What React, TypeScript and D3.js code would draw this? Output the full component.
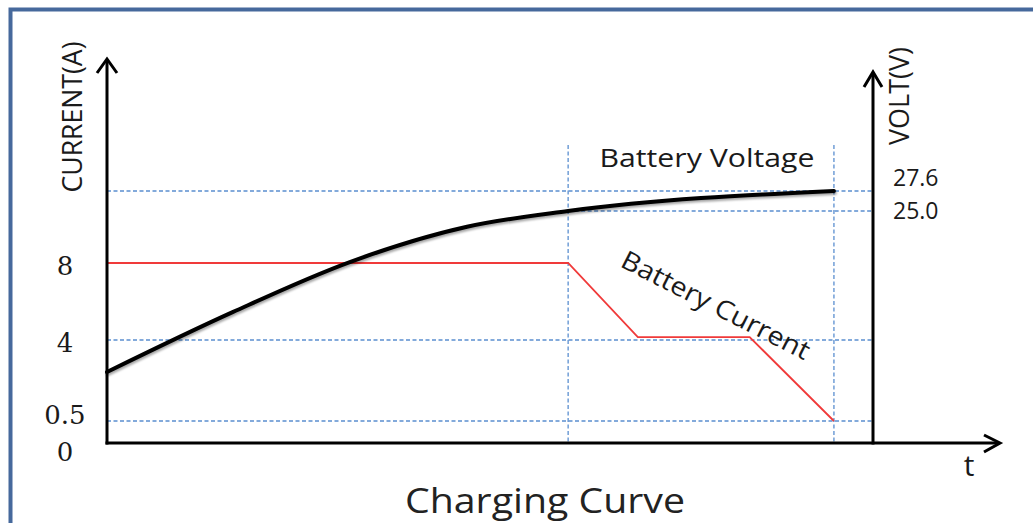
import React from 'react';
import { scaleLinear, line, curveMonotoneX, curveLinear } from 'd3';

// values (time in arbitrary hours)
const currentTicks = [0, 0.5, 4, 8];
const voltTicks = [25.0, 27.6];
const phaseTimes = [6.02, 9.49];

const currentTime = [0, 6.02, 6.93, 8.39, 9.49];
const currentAmps = [8, 8, 4.15, 4.15, 0.5];

const voltTime = [0, 1.64, 3.17, 4.7, 6.02, 9.49];
const voltValues = [7.65, 14.1, 19.5, 23.3, 25.0, 27.6];

const titleText = 'Charging  Curve';
const leftAxisTitle = 'CURRENT(A)';
const rightAxisTitle = 'VOLT(V)';
const voltLabel = 'Battery Voltage';
const currentLabel = 'Battery Current';
const timeLabel = 't';

const W = 1033;
const H = 523;

const App = () => {
  const x = scaleLinear().domain([0, 10]).range([107, 873]);
  // the drawing is schematic, so both value axes are piecewise
  const yA = scaleLinear().domain([0, 0.5, 4, 8]).range([443, 421, 340, 263]);
  const yV = scaleLinear().domain([0, 25, 27.6]).range([443, 211, 191]);

  const x0 = x(0);
  const xR = x(10);
  const y0 = yA(0);
  const leftTop = 59;
  const rightTop = 72;
  const xEnd = 1000;
  const gridTop = 145;

  const currentPath = line<number>()
    .x((d, i) => x(currentTime[i]))
    .y((d) => yA(d))
    .curve(curveLinear)(currentAmps);

  const voltPath = line<number>()
    .x((d, i) => x(voltTime[i]))
    .y((d) => yV(d))
    .curve(curveMonotoneX)(voltValues);

  const blue = '#5b8fd0';
  const dash = '4,2.5';
  const sans = "'Open Sans', 'Noto Sans', sans-serif";
  const serif = "'DejaVu Serif', serif";
  const ink = '#1a1a1a';

  // small nudges so the bottom labels do not collide
  const tickNudge = (v: number) => (v === 0 ? 9 : v === 0.5 ? -6 : 3);

  return (
    <svg width={W} height={H} style={{ position: 'absolute', left: 0, top: 0, background: '#fff' }}>
      <defs>
        <filter id="shadow" x="-5%" y="-20%" width="110%" height="140%">
          <feDropShadow dx="1" dy="2" stdDeviation="1" floodColor="#000" floodOpacity="0.35" />
        </filter>
      </defs>

      {/* frame */}
      <rect x={10.5} y={9.5} width={W + 40} height={H + 40} fill="#fff" stroke="#46699c" strokeWidth={4} />

      {/* dashed guides */}
      {currentTicks.filter((v) => v > 0 && v < 8).map((v) => (
        <line key={'a' + v} x1={x0} x2={xR} y1={yA(v)} y2={yA(v)} stroke={blue} strokeWidth={1.3} strokeDasharray={dash} />
      ))}
      {voltTicks.map((v, i) => (
        <line key={'v' + v} x1={i === 0 ? x(phaseTimes[0]) : x0} x2={xR} y1={yV(v)} y2={yV(v)}
          stroke={blue} strokeWidth={1.3} strokeDasharray={dash} />
      ))}
      {phaseTimes.map((t) => (
        <line key={'t' + t} x1={x(t)} x2={x(t)} y1={gridTop} y2={y0} stroke={blue} strokeWidth={1.3} strokeDasharray={dash} />
      ))}

      {/* series */}
      <path d={currentPath || ''} fill="none" stroke="#f03a3a" strokeWidth={1.8} />
      <path d={voltPath || ''} fill="none" stroke="#000" strokeWidth={4} strokeLinecap="round" filter="url(#shadow)" />

      {/* axes */}
      <g stroke="#000" strokeWidth={3} fill="none">
        <line x1={x0} x2={x0} y1={y0 + 1.5} y2={leftTop + 1} />
        <polyline points={`${x0 - 10},${leftTop + 14} ${x0},${leftTop} ${x0 + 10},${leftTop + 14}`} />
        <line x1={xR} x2={xR} y1={y0 + 1.5} y2={rightTop + 1} />
        <polyline points={`${xR - 9},${rightTop + 15} ${xR},${rightTop} ${xR + 9},${rightTop + 15}`} />
        <line x1={x0 - 1.5} x2={xEnd - 1} y1={y0} y2={y0} />
        <polyline points={`${xEnd - 16},${y0 - 8} ${xEnd},${y0} ${xEnd - 16},${y0 + 9}`} />
      </g>

      {/* left tick labels */}
      {currentTicks.map((v) => (
        <text key={'l' + v} x={65} y={yA(v) + tickNudge(v)} dy="0.35em" textAnchor="middle"
          fontFamily={serif} fontSize={26} fill={ink}>{v}</text>
      ))}

      {/* right tick labels */}
      {voltTicks.map((v, i) => (
        <text key={'r' + v} x={893} y={yV(v) + (i === 1 ? -13 : 0)} dy="0.35em" fontFamily={sans}
          fontSize={23} fill={ink}>{v.toFixed(1)}</text>
      ))}

      {/* axis titles */}
      <text transform={`translate(82,117) rotate(-90)`} textAnchor="middle" fontFamily={sans} fontSize={27}
        fill={ink} textLength={151} lengthAdjust="spacingAndGlyphs">{leftAxisTitle}</text>
      <text transform={`translate(909,96) rotate(-90)`} textAnchor="middle" fontFamily={sans} fontSize={27}
        fill={ink} textLength={98} lengthAdjust="spacingAndGlyphs">{rightAxisTitle}</text>
      <text x={969} y={476} textAnchor="middle" fontFamily={sans} fontSize={30} fill={ink}>{timeLabel}</text>

      {/* annotations */}
      <text x={707} y={167} textAnchor="middle" fontFamily={sans} fontSize={25} fill={ink}
        textLength={215} lengthAdjust="spacingAndGlyphs">{voltLabel}</text>
      <text transform={`translate(619,266) rotate(27)`} fontFamily={sans} fontSize={26} fill={ink}
        textLength={208} lengthAdjust="spacingAndGlyphs">{currentLabel}</text>
      <text x={545} y={513} textAnchor="middle" fontFamily={sans} fontSize={35} fill="#222"
        textLength={280} lengthAdjust="spacingAndGlyphs">{titleText}</text>
    </svg>
  );
};

export default App;
